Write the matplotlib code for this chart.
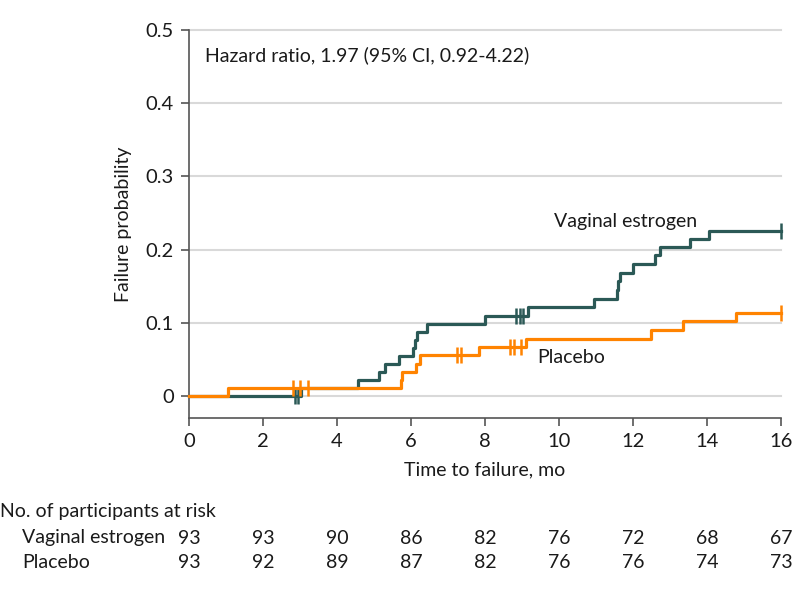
import matplotlib
matplotlib.use("Agg")
import matplotlib.pyplot as plt
from matplotlib.transforms import blended_transform_factory

plt.rcParams['font.family'] = ['Lato', 'DejaVu Sans']

# Data
ve_times = [0, 3.02, 4.57, 5.14, 5.30, 5.68, 6.06, 6.10, 6.15, 6.42, 8.0, 9.17, 10.95,
            11.56, 11.60, 11.65, 12.01, 12.60, 12.73, 13.54, 14.06, 16.0]
ve_prob = [0, 0.011, 0.022, 0.033, 0.044, 0.055, 0.066, 0.077, 0.088, 0.099, 0.110, 0.122, 0.133,
           0.145, 0.157, 0.168, 0.180, 0.192, 0.204, 0.215, 0.226, 0.226]
ve_cens_t = [2.86, 2.95, 8.84, 8.95, 9.04, 16.0]
ve_cens_p = [0, 0, 0.110, 0.110, 0.110, 0.226]

pl_times = [0, 1.05, 5.73, 5.77, 6.13, 6.24, 7.85, 9.10, 12.48, 13.36, 14.78, 16.0]
pl_prob = [0, 0.011, 0.022, 0.033, 0.044, 0.056, 0.067, 0.078, 0.090, 0.102, 0.114, 0.114]
pl_cens_t = [2.80, 3.00, 3.21, 7.23, 7.34, 8.68, 8.78, 8.97, 16.0]
pl_cens_p = [0.011, 0.011, 0.011, 0.056, 0.056, 0.067, 0.067, 0.067, 0.114]

risk_times = [0, 2, 4, 6, 8, 10, 12, 14, 16]
risk_ve = [93, 93, 90, 86, 82, 76, 72, 68, 67]
risk_pl = [93, 92, 89, 87, 82, 76, 76, 74, 73]

c_ve = '#2b5956'
c_pl = '#ff8300'
tc = '#1a1a1a'
fs = 14

fig = plt.figure(figsize=(7.98, 5.90), dpi=100)
ax = fig.add_axes([189/798, 1-418/590, (781-189)/798, (418-30)/590])

yt = [0, 0.1, 0.2, 0.3, 0.4, 0.5]
for y in yt:
    ax.plot([0, 16], [y, y], color='#d9d9d9', lw=1.5, zorder=0, clip_on=False)

ax.step(ve_times, ve_prob, where='post', color=c_ve, lw=2.3, zorder=2, clip_on=False)
ax.plot(ve_cens_t, ve_cens_p, ls='none', marker='|', ms=12, mew=1.8, color=c_ve, zorder=2, clip_on=False)
ax.step(pl_times, pl_prob, where='post', color=c_pl, lw=2.3, zorder=3, clip_on=False)
ax.plot(pl_cens_t, pl_cens_p, ls='none', marker='|', ms=12, mew=1.8, color=c_pl, zorder=3, clip_on=False)

ax.set_xlim(0, 16)
ax.set_ylim(-0.03, 0.5)
ax.set_xticks(risk_times)
ax.set_yticks(yt)
ax.set_yticklabels(['0', '0.1', '0.2', '0.3', '0.4', '0.5'])
for s in ['top', 'right']:
    ax.spines[s].set_visible(False)
for s in ['left', 'bottom']:
    ax.spines[s].set_color('#555555')
    ax.spines[s].set_linewidth(1.2)
ax.tick_params(length=6, width=1.2, color='#555555', labelsize=14.5, labelcolor=tc, pad=5)
ax.set_xlabel('Time to failure, mo', fontsize=fs, color=tc, labelpad=8)
ax.set_ylabel('Failure probability', fontsize=fs, color=tc, labelpad=10)

ax.text(0.43, 0.466, 'Hazard ratio, 1.97 (95% CI, 0.92-4.22)', fontsize=fs, color=tc, va='center', ha='left')
ax.text(9.86, 0.238, 'Vaginal estrogen', fontsize=fs, color=tc, va='center', ha='left')
ax.text(9.4, 0.053, 'Placebo', fontsize=fs, color=tc, va='center', ha='left')

tr = blended_transform_factory(ax.transData, fig.transFigure)
fig.text(0.0, 1-512/590, 'No. of participants at risk', fontsize=fs, color=tc, va='center', ha='left')
fig.text(22/798, 1-538/590, 'Vaginal estrogen', fontsize=fs, color=tc, va='center', ha='left')
fig.text(22/798, 1-562/590, 'Placebo', fontsize=fs, color=tc, va='center', ha='left')
for t, a, b in zip(risk_times, risk_ve, risk_pl):
    fig.text(t, 1-538/590, str(a), transform=tr, fontsize=fs, color=tc, va='center', ha='center')
    fig.text(t, 1-562/590, str(b), transform=tr, fontsize=fs, color=tc, va='center', ha='center')

fig.savefig('out.png', dpi=100)
